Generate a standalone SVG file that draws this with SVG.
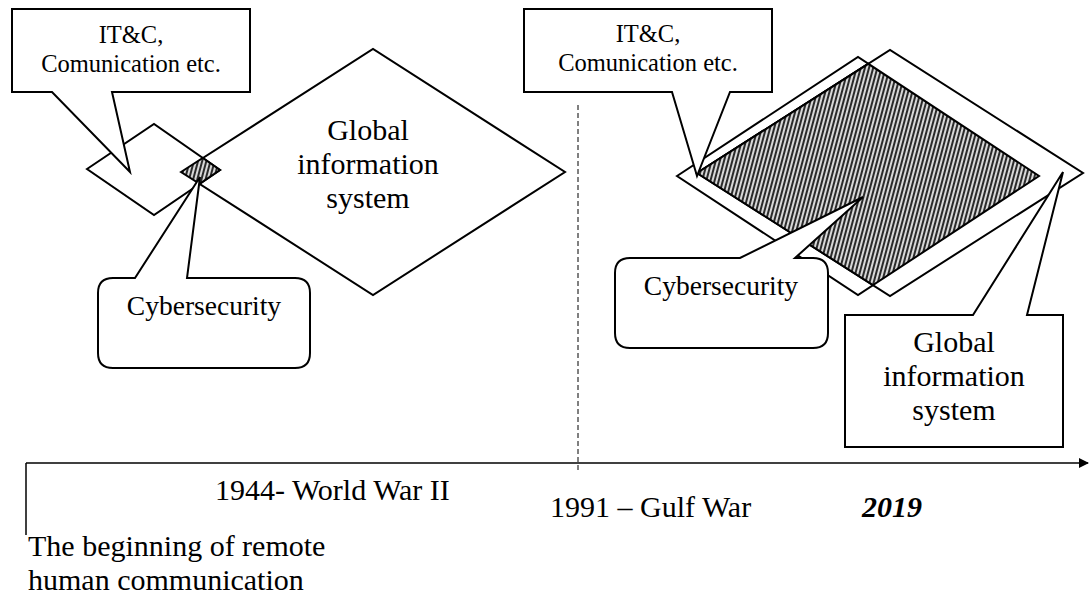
<svg xmlns="http://www.w3.org/2000/svg" width="1089" height="601" viewBox="0 0 1089 601">
<style>
.shape{fill:#fff;stroke:#000;stroke-width:2;stroke-linejoin:miter}
.hatch{fill:url(#hatch);stroke:#000;stroke-width:2}
.t{font-family:"Liberation Serif","Times New Roman",serif;fill:#000}
.c{text-anchor:middle}
.axis{stroke:#000;stroke-width:1.5;fill:none}
.dash{stroke:#000;stroke-width:1;stroke-dasharray:5,3;fill:none}
</style>
<defs>
<pattern id="hatch" width="4" height="4" patternUnits="userSpaceOnUse" patternTransform="rotate(15)">
<rect width="4" height="4" fill="#d8d8d8"/>
<rect width="2" height="4" fill="#2a2a2a"/>
</pattern>
<marker id="arrow" markerWidth="10" markerHeight="10" refX="9" refY="5" orient="auto" markerUnits="userSpaceOnUse">
<path d="M0,0 L10,5 L0,10 Z" fill="#000"/>
</marker>
</defs>
<rect width="1089" height="601" fill="#fff"/>

<g id="left-global-diamond">
<polygon class="shape" points="181,172 373,49 565,172 373,295"/>
<text class="t c" font-size="30" x="368" y="140">Global</text>
<text class="t c" font-size="30" x="368" y="174">information</text>
<text class="t c" font-size="30" x="368" y="208">system</text>
</g>
<g id="left-itc-diamond">
<polygon class="shape" points="87,169 154,124 220,170 154,215"/>
</g>
<g id="left-cyber-area">
<polygon class="hatch" points="181,172 202.8,158 220,170 199.6,183.9"/>
</g>

<g id="right-diamond-a">
<polygon class="shape" points="677,176 858,57 1039,176 858,295"/>
</g>
<g id="right-diamond-b">
<polygon class="shape" points="697,173 890,50 1083,173 890,296"/>
<polygon fill="none" stroke="#000" stroke-width="2" points="697,173 868.3,63.8"/>
</g>
<g id="right-cyber-area">
<polygon class="hatch" points="697,173 868.3,63.8 1039,176 873,285.1"/>
</g>

<g id="left-itc-callout">
<path class="shape" d="M12,9 H250 V92 H112 L130,172 L52,92 H12 Z"/>
<text class="t c" font-size="24.5" x="131" y="43">IT&amp;C,</text>
<text class="t c" font-size="24.5" x="131" y="72">Comunication etc.</text>
</g>
<g id="left-cyber-callout">
<path class="shape" d="M113,278 H135 L200,177 L187,278 H295 Q310,278 310,293 V353 Q310,368 295,368 H113 Q98,368 98,353 V293 Q98,278 113,278 Z"/>
<text class="t c" font-size="27.5" x="204" y="315">Cybersecurity</text>
</g>

<g id="right-itc-callout">
<path class="shape" d="M524,9 H772 V92 H730 L697,176 L672,92 H524 Z"/>
<text class="t c" font-size="24.5" x="648" y="42">IT&amp;C,</text>
<text class="t c" font-size="24.5" x="648" y="71">Comunication etc.</text>
</g>
<g id="right-cyber-callout">
<path class="shape" d="M630,258 H740 L863,197 L795,258 H813 Q828,258 828,273 V333 Q828,348 813,348 H630 Q615,348 615,333 V273 Q615,258 630,258 Z"/>
<text class="t c" font-size="27.5" x="721" y="295">Cybersecurity</text>
</g>
<g id="right-global-callout">
<path class="shape" d="M845,315 H973 L1063,172 L1027,315 H1063 V447 H845 Z"/>
<text class="t c" font-size="30" x="954" y="352">Global</text>
<text class="t c" font-size="30" x="954" y="386">information</text>
<text class="t c" font-size="30" x="954" y="420">system</text>
</g>

<g id="connectors">
<line class="dash" x1="578" y1="105" x2="578" y2="470"/>
<line class="axis" x1="26" y1="463" x2="1088" y2="463" marker-end="url(#arrow)"/>
<line class="axis" x1="26" y1="463" x2="26" y2="535"/>
</g>

<g id="timeline-labels">
<text class="t" font-size="30" x="215" y="500">1944- World War II</text>
<text class="t" font-size="30" x="550" y="517">1991 – Gulf War</text>
<text class="t" font-size="30" x="862" y="517" font-weight="bold" font-style="italic">2019</text>
<text class="t" font-size="30" x="28" y="556">The beginning of remote</text>
<text class="t" font-size="30" x="28" y="590">human communication</text>
</g>
</svg>
